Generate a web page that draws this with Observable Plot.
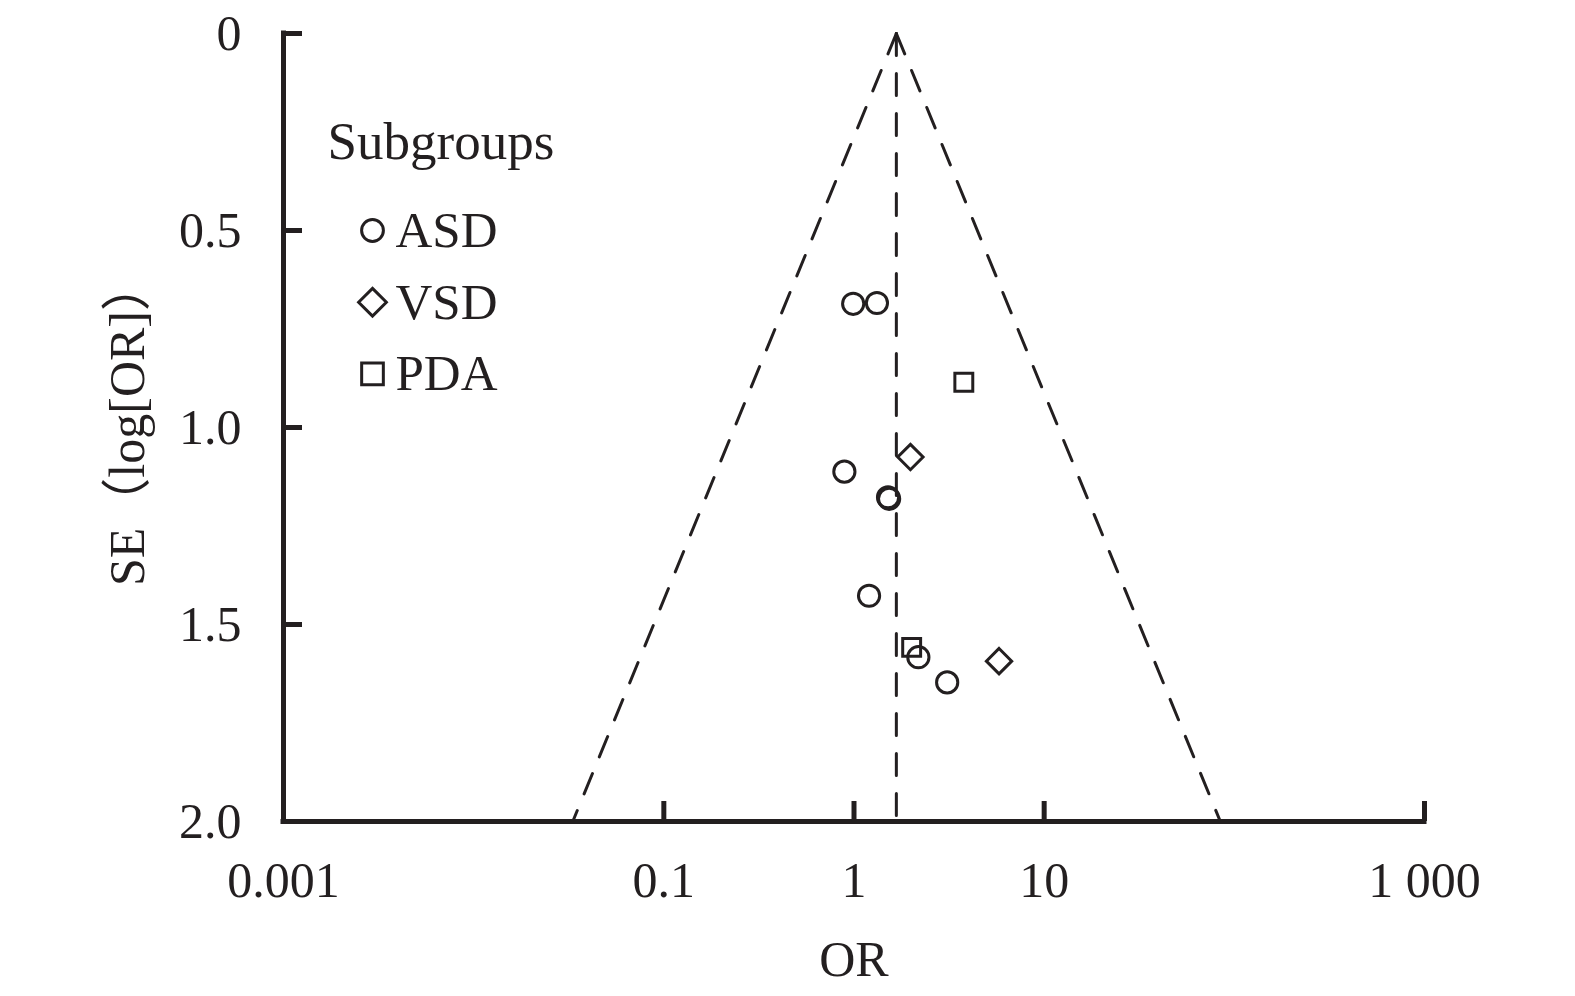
<!DOCTYPE html>
<html>
<head>
<meta charset="utf-8">
<script src="https://cdn.jsdelivr.net/npm/d3@7"></script>
<script src="https://cdn.jsdelivr.net/npm/@observablehq/plot@0.6"></script>
<style>
  html, body { margin: 0; padding: 0; background: #fff; }
</style>
</head>
<body>
<div id="chart"></div>
<script>
// ---- data ----
const subgroups = ["ASD", "VSD", "PDA"];
const asdOR = [0.99, 1.32, 0.89, 1.51, 1.53, 1.20, 2.18, 3.09];
const asdSE = [0.686, 0.684, 1.112, 1.177, 1.181, 1.427, 1.583, 1.647];
const vsdOR = [1.98, 5.79];
const vsdSE = [1.075, 1.593];
const pdaOR = [3.78, 2.01];
const pdaSE = [0.885, 1.558];

const pooledOR = 1.67;
const funnelSE = [0, 2.0];
const funnelLowerOR = [1.67, 0.0332];
const funnelUpperOR = [1.67, 84.4];

const xTicks = [0.001, 0.1, 1, 10, 1000];
const xTickLabels = ["0.001", "0.1", "1", "10", "1 000"];
const xTickMarks = [0.1, 1, 10, 1000];
const yTicks = [0, 0.5, 1, 1.5, 2];
const yTickLabels = ["0", "0.5", "1.0", "1.5", "2.0"];
const yTickMarks = [0, 0.5, 1, 1.5];

const xTitle = "OR";
const yTitle = "SE（log[OR]）";
const legendTitle = "Subgroups";

// ---- derived tables ----
const points = [
  ...asdOR.map((v, i) => ({group: "ASD", or: v, se: asdSE[i]})),
  ...vsdOR.map((v, i) => ({group: "VSD", or: v, se: vsdSE[i]})),
  ...pdaOR.map((v, i) => ({group: "PDA", or: v, se: pdaSE[i]}))
];
const lowerLine = funnelSE.map((s, i) => ({se: s, or: funnelLowerOR[i]}));
const upperLine = funnelSE.map((s, i) => ({se: s, or: funnelUpperOR[i]}));
const centerLine = funnelSE.map(s => ({se: s, or: pooledOR}));
const xLabelMap = new Map(xTicks.map((t, i) => [t, xTickLabels[i]]));
const yLabelMap = new Map(yTicks.map((t, i) => [t, yTickLabels[i]]));

// ---- styles ----
const ink = "#231f20";
const symbolOf = {ASD: "circle", VSD: "diamond2", PDA: "square2"};
const rOf = {ASD: 10.6, VSD: 11.4, PDA: 11.4};
const legendR = {ASD: 10.9, VSD: 12.5, PDA: 13.8};
const W = 1575, H = 996;
const mL = 283, mR = 151, mT = 33, mB = 175;
const plotW = W - mL - mR, plotH = H - mT - mB;
const dash = "22,18";
const symStroke = 3;

const marks = [
  // funnel and pooled line
  Plot.line(lowerLine, {x: "or", y: "se", stroke: ink, strokeWidth: 3, strokeDasharray: dash}),
  Plot.line(upperLine, {x: "or", y: "se", stroke: ink, strokeWidth: 3, strokeDasharray: dash}),
  Plot.line(centerLine, {x: "or", y: "se", stroke: ink, strokeWidth: 3, strokeDasharray: dash}),
  // axis lines
  Plot.ruleX([xTicks[0]], {y1: yTicks[0], y2: yTicks[yTicks.length - 1], stroke: ink, strokeWidth: 5, strokeLinecap: "square"}),
  Plot.ruleY([yTicks[yTicks.length - 1]], {x1: xTicks[0], x2: xTicks[xTicks.length - 1], stroke: ink, strokeWidth: 5, strokeLinecap: "square"}),
  // inward tick marks
  Plot.ruleX(xTickMarks, {insetTop: plotH - 20, stroke: ink, strokeWidth: 5}),
  Plot.ruleY(yTickMarks, {insetRight: plotW - 19, stroke: ink, strokeWidth: 5}),
  // tick labels
  Plot.axisX({ticks: xTicks, tickFormat: d => xLabelMap.get(d), tickSize: 0, tickPadding: 40, label: null, fill: ink}),
  Plot.axisY({ticks: yTicks, tickFormat: d => yLabelMap.get(d), tickSize: 0, tickPadding: 42, label: null, fill: ink}),
  // axis titles
  Plot.text([xTitle], {text: d => d, frameAnchor: "bottom", dy: 138, lineAnchor: "middle", fill: ink}),
  Plot.text([yTitle], {text: d => d, frameAnchor: "left", dx: -156, dy: -4, rotate: -90, textAnchor: "middle", lineAnchor: "middle", fill: ink}),
  // data points
  ...subgroups.map(g => Plot.dot(points.filter(p => p.group === g), {
    x: "or", y: "se", symbol: () => symbolOf[g], r: rOf[g], stroke: ink, fill: "none", strokeWidth: symStroke
  })),
  // legend
  Plot.text([legendTitle], {text: d => d, frameAnchor: "top-left", dx: 44, dy: 109, textAnchor: "start", lineAnchor: "middle", fontSize: 53, fill: ink}),
  ...subgroups.map((g, i) => Plot.dot([g], {
    frameAnchor: "top-left", dx: 89, dy: 197 + 71.7 * i, symbol: () => symbolOf[g], r: legendR[g],
    stroke: ink, fill: "none", strokeWidth: symStroke
  })),
  ...subgroups.map((g, i) => Plot.text([g], {
    text: d => d, frameAnchor: "top-left", dx: 112, dy: 197 + 71.7 * i, textAnchor: "start", lineAnchor: "middle", fontSize: 51, fill: ink
  }))
];

const chart = Plot.plot({
  width: W,
  height: H,
  marginLeft: mL,
  marginRight: mR,
  marginTop: mT,
  marginBottom: mB,
  x: {type: "log", domain: [xTicks[0], xTicks[xTicks.length - 1]]},
  y: {domain: [yTicks[0], yTicks[yTicks.length - 1]], reverse: true},
  symbol: {type: "identity"},
  style: {fontFamily: "'Liberation Serif', 'Noto Sans CJK SC', serif", fontSize: "50px", color: ink, background: "#fff", overflow: "visible"},
  marks
});
document.getElementById("chart").appendChild(chart);
</script>
</body>
</html>
